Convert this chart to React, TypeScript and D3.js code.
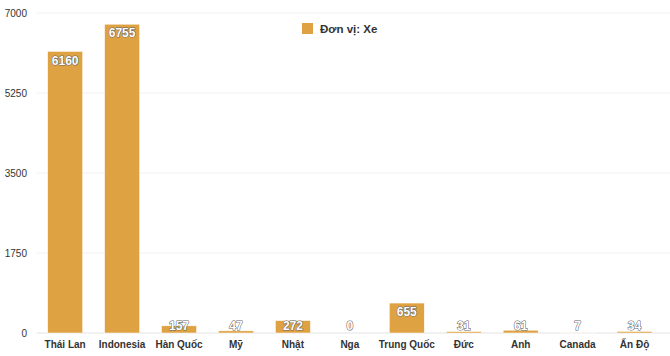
import React from "react";
import * as d3 from "d3";

const categories = ["Thái Lan", "Indonesia", "Hàn Quốc", "Mỹ", "Nhật", "Nga", "Trung Quốc", "Đức", "Anh", "Canada", "Ấn Độ"];
const values = [6160, 6755, 157, 47, 272, 0, 655, 31, 61, 7, 34];
const yTicks = [0, 1750, 3500, 5250, 7000];
const seriesName = "Đơn vị: Xe";

const W = 670;
const H = 356;
const left = 36.7;
const right = 663;
const top = 13;
const bottom = 333;
const color = "#DFA243";
const font = "'Liberation Sans', Arial, Helvetica, sans-serif";

export default function App() {
  const x = d3.scaleBand<string>().domain(categories).range([left, right]).paddingInner(0).paddingOuter(0);
  const y = d3.scaleLinear().domain([0, 7000]).range([bottom, top]);
  const bw = x.step() * 0.615;

  return (
    <svg width={W} height={H} style={{ position: "absolute", left: 0, top: 0, fontFamily: font }}>
      <rect x={0} y={0} width={W} height={H} fill="#fff" />
      {yTicks.map((t) => (
        <g key={t}>
          <line x1={left} x2={W} y1={y(t)} y2={y(t)} stroke={t === 0 ? "#e3e3e3" : "#f0f0f0"} strokeWidth={1} />
          <text x={27} y={y(t)} dy="0.35em" textAnchor="end" fontSize={10} fill="#333" fontWeight={500}>
            {t}
          </text>
        </g>
      ))}
      {categories.map((c, i) => {
        const v = values[i];
        const cx = (x(c) as number) + x.step() / 2;
        const yt = y(v);
        const ly = Math.min(yt + 9, bottom - 7);
        return (
          <g key={c}>
            <rect x={cx - bw / 2} y={yt} width={bw} height={bottom - yt} fill={color} stroke="#fff" strokeWidth={0.5} />
            <text
              x={cx}
              y={ly}
              dy="0.35em"
              textAnchor="middle"
              fontSize={12}
              fontWeight="bold"
              fill="#fff"
              stroke="#666"
              strokeWidth={1.1}
              paintOrder="stroke"
              strokeLinejoin="round"
            >
              {v}
            </text>
            <text x={cx} y={344} dy="0.35em" textAnchor="middle" fontSize={10} fontWeight="bold" fill="#333">
              {c}
            </text>
          </g>
        );
      })}
      <rect x={302} y={23} width={11} height={11} fill={color} />
      <text x={320} y={28.5} dy="0.35em" fontSize={11.5} fontWeight="bold" fill="#333">
        {seriesName}
      </text>
    </svg>
  );
}
